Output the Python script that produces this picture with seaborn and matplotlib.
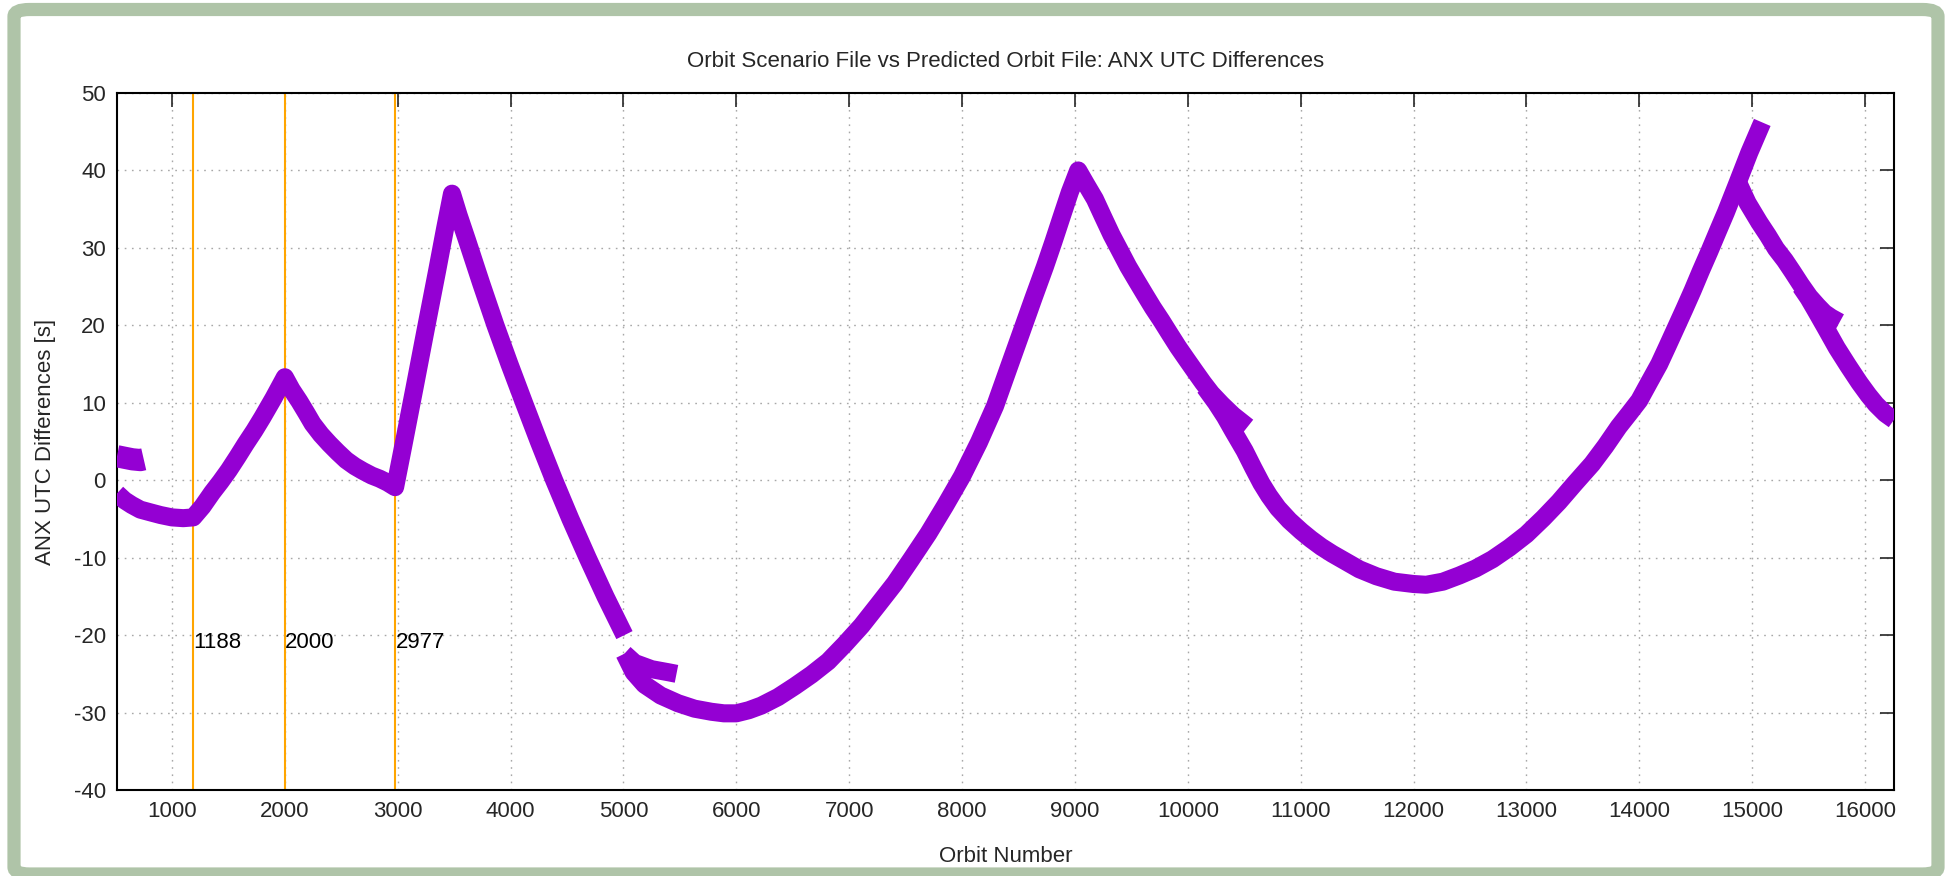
import numpy as np
import pandas as pd
import matplotlib
matplotlib.use("Agg")
import matplotlib.pyplot as plt
from matplotlib.patches import FancyBboxPatch
import seaborn as sns

# orbit number / ANX UTC difference [s], one list per run
blob_orbit = [513, 580, 650, 720, 750]
blob_diff = [3.1, 2.9, 2.7, 2.6, 2.7]

run1_orbit = [513, 580, 644, 720, 822, 900, 1000, 1100, 1188, 1270, 1356, 1430, 1504,
              1580, 1653, 1730, 1801, 1900, 2000, 2060, 2128, 2190, 2246, 2320,
              2395, 2470, 2543, 2620, 2691, 2770, 2840, 2910, 2977, 3050, 3150,
              3250, 3350, 3420, 3481, 3540, 3614, 3740, 3866, 3990, 4119, 4250,
              4386, 4530, 4682, 4840, 5009]
run1_diff = [-1.7, -2.6, -3.2, -3.8, -4.2, -4.5, -4.8, -4.9, -4.8, -3.4, -1.6, -0.2, 1.3,
             3.0, 4.7, 6.4, 8.1, 10.6, 13.3, 11.7, 10.2, 8.7, 7.3, 5.9,
             4.7, 3.6, 2.6, 1.8, 1.2, 0.6, 0.2, -0.3, -0.9, 4.5, 12.0,
             19.6, 27.1, 32.5, 37.0, 34.2, 31.0, 25.4, 20.0, 15.0, 10.0, 5.0,
             0.0, -5.0, -10.0, -15.0, -20.0]

run2_orbit = [5009, 5100, 5250, 5400, 5470]
run2_diff = [-22.4, -23.6, -24.4, -24.8, -25.0]

run3_orbit = [5009, 5090, 5187, 5330, 5484, 5630, 5780, 5890, 6000, 6110, 6222, 6370,
              6518, 6666, 6814, 6960, 7109, 7255, 7405, 7550, 7701, 7850, 8000,
              8150, 8293, 8410, 8530, 8635, 8735, 8810, 8882, 8955, 9029, 9100,
              9177, 9250, 9324, 9400, 9472, 9545, 9619, 9690, 9767, 9840, 9914,
              9990, 10062, 10135, 10209, 10300, 10400, 10530]
run3_diff = [-22.4, -24.8, -26.4, -27.8, -28.8, -29.5, -29.9, -30.1, -30.1, -29.7, -29.1, -28.0,
             -26.6, -25.1, -23.4, -21.2, -18.8, -16.1, -13.3, -10.2, -6.9, -3.3, 0.5,
             4.9, 9.6, 14.4, 19.3, 23.6, 27.6, 30.8, 34.0, 37.2, 40.0, 38.2,
             36.3, 34.0, 31.7, 29.6, 27.6, 25.8, 24.0, 22.3, 20.6, 18.9, 17.2,
             15.6, 14.1, 12.6, 11.2, 9.8, 8.4, 6.9]

run4_orbit = [10150, 10250, 10330, 10400, 10504, 10580, 10652, 10720, 10799, 10900,
              11006, 11090, 11183, 11280, 11376, 11520, 11671, 11830, 12000,
              12112, 12260, 12406, 12550, 12700, 12850, 13000, 13150, 13288, 13430,
              13582, 13700, 13818, 13910, 14000, 14090, 14177, 14250, 14325, 14400,
              14473, 14545, 14620, 14695, 14768, 14871, 14975, 15090]
run4_diff = [12.0, 10.0, 8.2, 6.4, 3.8, 1.6, -0.4, -2.0, -3.6, -5.2,
             -6.6, -7.6, -8.6, -9.5, -10.3, -11.5, -12.4, -13.1, -13.4,
             -13.5, -13.1, -12.3, -11.4, -10.2, -8.7, -7.0, -4.9, -2.8, -0.4,
             2.1, 4.4, 6.9, 8.6, 10.3, 12.7, 15.0, 17.3, 19.7, 22.1,
             24.5, 27.0, 29.5, 32.1, 34.6, 38.4, 42.3, 46.2]

run5_orbit = [14871, 14960, 15063, 15140, 15211, 15290, 15359, 15430, 15507, 15580, 15640, 15700, 15775]
run5_diff = [38.6, 35.8, 33.3, 31.6, 29.9, 28.4, 26.9, 25.3, 23.7, 22.5, 21.6, 21.0, 20.4]

run6_orbit = [15430, 15500, 15560, 15650, 15750, 15850, 15950, 16030, 16097, 16180, 16257]
run6_diff = [25.0, 23.5, 22.0, 19.7, 17.1, 14.8, 12.6, 11.0, 9.8, 8.6, 7.8]

change_orbits = [1188, 2000, 2977]

runs = [(blob_orbit, blob_diff), (run1_orbit, run1_diff), (run2_orbit, run2_diff),
        (run3_orbit, run3_diff), (run4_orbit, run4_diff), (run5_orbit, run5_diff),
        (run6_orbit, run6_diff)]
df = pd.concat([pd.DataFrame({"orbit": o, "diff": d, "run": i})
                for i, (o, d) in enumerate(runs)], ignore_index=True)

sns.set_style("white")
plt.rcParams["font.family"] = ["Liberation Sans", "DejaVu Sans"]
plt.rcParams["axes.unicode_minus"] = False

W, H = 1945, 876
fig = plt.figure(figsize=(W / 100, H / 100), dpi=100)
L, R, T, B = 117, 1894, 93, 790
ax = fig.add_axes([L / W, 1 - B / H, (R - L) / W, (B - T) / H])

# green frame round the whole picture
frame = FancyBboxPatch((14 / W, 1 - 874 / H), (1938 - 14) / W, (874 - 9.5) / H,
                       boxstyle="round,pad=0,rounding_size=0.008",
                       transform=fig.transFigure, facecolor="none",
                       edgecolor="#afc4a8", linewidth=9.5, zorder=-1)
fig.patches.append(frame)

ax.grid(True, color="#a8a8a8", linestyle=(0, (1.2, 4)), linewidth=1.0)

for xo in change_orbits:
    ax.axvline(xo, color="#ffa500", linewidth=1.5, zorder=2)
    ax.text(xo + 3, -21, str(xo), ha="left", va="center", fontsize=16, color="black")

sns.lineplot(data=df, x="orbit", y="diff", units="run", estimator=None, sort=False,
             color="#9400d3", linewidth=13, ax=ax, zorder=3)
data_lines = ax.get_lines()[-len(runs):]
for line in data_lines:
    line.set_solid_capstyle("butt")
    line.set_solid_joinstyle("round")
data_lines[0].set_linewidth(16)

ax.set_xlim(513, 16257)
ax.set_ylim(-40, 50)
ax.set_xticks(np.arange(1000, 16001, 1000))
ax.set_yticks(np.arange(-40, 51, 10))
ax.tick_params(direction="in", length=10, width=1.2, top=True, right=True,
               labelsize=16, pad=8)
for s in ax.spines.values():
    s.set_color("black")
    s.set_linewidth(1.5)

ax.set_title("Orbit Scenario File vs Predicted Orbit File: ANX UTC Differences",
             fontsize=16, pad=19)
ax.set_xlabel("Orbit Number", fontsize=16)
ax.set_ylabel("ANX UTC Differences [s]", fontsize=16)
ax.xaxis.set_label_coords(0.5, (B - 856) / (B - T))
ax.xaxis.label.set_va("center")
ax.yaxis.set_label_coords((45 - L) / (R - L), 0.5)
ax.yaxis.label.set_va("center")

fig.savefig("out.png", dpi=100)
